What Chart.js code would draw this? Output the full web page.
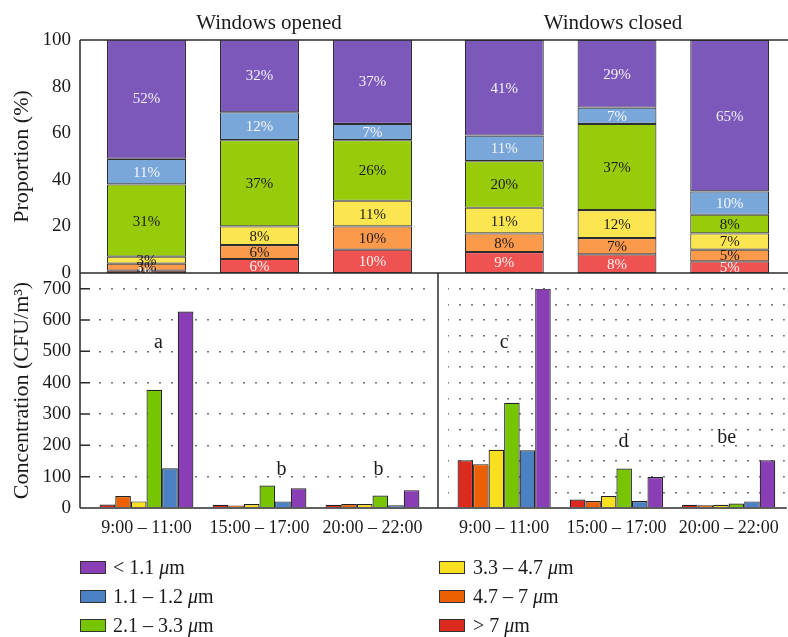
<!DOCTYPE html>
<html lang="en">
<head>
<meta charset="UTF-8">
<title>Airborne bacteria by particle size</title>
<script src="https://cdn.jsdelivr.net/npm/chart.js@4.4.0/dist/chart.umd.min.js"></script>
<style>
  html, body { margin: 0; padding: 0; background: #fff; }
  #wrap { position: relative; width: 788px; height: 637px; overflow: hidden;
          font-family: 'Liberation Serif', serif; color: #1a1a1a; }
  #wrap canvas { position: absolute; left: 0; top: 0; }
  .ptitle { position: absolute; top: 12px; width: 240px; text-align: center;
            font-size: 21px; line-height: 21px; white-space: nowrap; }
  .lgbox { position: absolute; width: 26px; height: 13px; box-sizing: border-box; border: 1px solid #333; }
  .lgtxt { position: absolute; font-size: 20px; line-height: 20px; white-space: nowrap; }
</style>
</head>
<body>
<div id="wrap">
  <canvas id="topL" width="788" height="637"></canvas>
  <canvas id="topR" width="788" height="637"></canvas>
  <canvas id="botL" width="788" height="637"></canvas>
  <canvas id="botR" width="788" height="637"></canvas>
  <div class="ptitle" style="left:149px">Windows opened</div>
  <div class="ptitle" style="left:493px">Windows closed</div>
</div>
<script>
// categories + size classes (rows of the tables below follow sizeLabels)
const times = ['9:00 – 11:00', '15:00 – 17:00', '20:00 – 22:00'];
const sizeLabels = ['> 7 μm', '4.7 – 7 μm', '3.3 – 4.7 μm', '2.1 – 3.3 μm', '1.1 – 1.2 μm', '< 1.1 μm'];

// proportion (%) as printed on the stacked bars
const propOpened = [
  [1, 6, 10],
  [3, 6, 10],
  [3, 8, 11],
  [31, 37, 26],
  [11, 12, 7],
  [52, 32, 37]
];
const propClosed = [
  [9, 8, 5],
  [8, 7, 5],
  [11, 12, 7],
  [20, 37, 8],
  [11, 7, 10],
  [41, 29, 65]
];

// concentration (CFU/m3)
const concOpened = [
  [11, 10, 10],
  [38, 8, 13],
  [21, 13, 13],
  [377, 72, 40],
  [127, 21, 9],
  [627, 63, 57]
];
const concClosed = [
  [152, 27, 10],
  [140, 22, 9],
  [186, 38, 10],
  [336, 126, 14],
  [184, 22, 21],
  [700, 99, 152]
];

// significance letters over each group
const lettersOpened = ['a', 'b', 'b'];
const lettersClosed = ['c', 'd', 'be'];

const FONT = 'Liberation Serif';
const propColors = ['#f05151', '#fc9a4b', '#fce650', '#98cc0b', '#7aa7d9', '#7b58b9'];
const propTextColors = ['#fdf2f2', '#1a1a1a', '#1a1a1a', '#1a1a1a', '#f4f6fb', '#f3f0f9'];
const concColors = ['#dc2a1e', '#ed6000', '#f8df1f', '#76c500', '#4b80c2', '#8a3eb6'];
// where the letters sit (value units / pixel nudge)
const letterPosOpened = [{ v: 511, dx: 12 }, { v: 105, dx: 22 }, { v: 105, dx: 6 }];
const letterPosClosed = [{ v: 511, dx: 0 }, { v: 195, dx: 7 }, { v: 208, dx: -2 }];

// --- small plugins ---
// panel frame; the frame sits a little outside the category area
const framePlugin = {
  id: 'frame',
  afterDraw(chart, args, o) {
    const { ctx, chartArea: a } = chart;
    const L = a.left - o.outL, R = a.right + o.outR;
    ctx.save();
    ctx.strokeStyle = '#2b2b2b';
    ctx.lineWidth = 1.5;
    ctx.beginPath();
    o.sides.forEach(s => {
      if (s === 'left') { ctx.moveTo(L, a.top); ctx.lineTo(L, a.bottom); }
      if (s === 'right') { ctx.moveTo(R, a.top); ctx.lineTo(R, a.bottom); }
      if (s === 'top') { ctx.moveTo(L, a.top); ctx.lineTo(R, a.top); }
      if (s === 'bottom') { ctx.moveTo(L, a.bottom); ctx.lineTo(R, a.bottom); }
    });
    // short inward ticks on the concentration axis
    if (o.inTicks) {
      const ys = chart.scales.y;
      ys.ticks.forEach(t => {
        if (t.value <= 0 || t.value >= ys.max) return;
        const len = t.value % 100 === 0 ? 10 : 5;
        const py = ys.getPixelForValue(t.value);
        ctx.moveTo(L, py); ctx.lineTo(L + len, py);
      });
    }
    ctx.stroke();
    ctx.restore();
  }
};

const segLabelPlugin = {
  id: 'segLabels',
  afterDatasetsDraw(chart) {
    const ctx = chart.ctx;
    ctx.save();
    ctx.font = '15px "' + FONT + '"';
    ctx.textAlign = 'center';
    ctx.textBaseline = 'middle';
    chart.data.datasets.forEach((ds, i) => {
      chart.getDatasetMeta(i).data.forEach((bar, j) => {
        ctx.fillStyle = propTextColors[i];
        ctx.fillText(ds.data[j] + '%', bar.x, (bar.y + bar.base) / 2 + 1);
      });
    });
    ctx.restore();
  }
};

const letterPlugin = {
  id: 'letters',
  afterDatasetsDraw(chart, args, o) {
    const ctx = chart.ctx;
    ctx.save();
    ctx.font = '20px "' + FONT + '"';
    ctx.fillStyle = '#1a1a1a';
    ctx.textAlign = 'center';
    ctx.textBaseline = 'alphabetic';
    o.letters.forEach((t, i) => {
      const p = o.pos[i];
      ctx.fillText(t, chart.scales.x.getPixelForValue(i) + p.dx, chart.scales.y.getPixelForValue(p.v));
    });
    ctx.restore();
  }
};

// --- chart builders ---
function xAxis(show, stacked) {
  const ax = {
    type: 'category', display: show, stacked: stacked,
    grid: { display: false, drawTicks: false },
    border: { display: false },
    ticks: { font: { family: FONT, size: 18 }, color: '#1a1a1a', padding: 9, maxRotation: 0, autoSkip: false }
  };
  if (show) ax.afterFit = s => { s.height = 40; };
  return ax;
}

function propChart(id, table, pad, showY, frame) {
  const yAx = {
    min: 0, max: 100, stacked: true, display: showY,
    grid: { display: false, drawTicks: false },
    border: { display: false },
    ticks: { stepSize: 20, padding: 19, font: { family: FONT, size: 19 }, color: '#1a1a1a' },
    title: { display: true, text: 'Proportion (%)', color: '#1a1a1a',
             font: { family: FONT, size: 22 }, padding: { top: 9, bottom: 0 } }
  };
  if (showY) yAx.afterFit = s => { s.width = 90; };
  return new Chart(document.getElementById(id), {
    type: 'bar',
    data: {
      labels: times,
      datasets: table.map((vals, i) => ({
        label: sizeLabels[i],
        data: vals,
        backgroundColor: propColors[i],
        borderColor: '#2e2e2e',
        borderWidth: 1.1,
        borderSkipped: false,
        categoryPercentage: 0.7,
        barPercentage: 1
      }))
    },
    options: {
      responsive: false, animation: false,
      layout: { padding: pad },
      scales: { x: xAxis(false, true), y: yAx },
      plugins: { legend: { display: false }, tooltip: { enabled: false }, frame: frame }
    },
    plugins: [framePlugin, segLabelPlugin]
  });
}

function concChart(id, table, pad, showLabels, frame, letters, pos, dashOff) {
  const yAx = {
    min: 0, max: 750,
    grid: {
      drawTicks: false, lineWidth: 1.5,
      color: c => (c.tick && (c.tick.value === 0 || c.tick.value === 750)) ? 'rgba(0,0,0,0)' : '#707070'
    },
    border: { display: false, dash: [2, 10], dashOffset: dashOff },
    ticks: {
      display: showLabels,
      stepSize: 50, padding: 19, font: { family: FONT, size: 19 }, color: '#1a1a1a',
      callback: v => (v % 100 === 0 ? v : '')
    },
    title: { display: showLabels, text: 'Concentration (CFU/m³)', color: '#1a1a1a',
             font: { family: FONT, size: 22 }, padding: { top: 9, bottom: 0 } },
    // the right panel keeps its grid but has no label column
    afterFit: s => { s.width = showLabels ? 90 : 0; }
  };
  return new Chart(document.getElementById(id), {
    type: 'bar',
    data: {
      labels: times,
      datasets: table.map((vals, i) => ({
        label: sizeLabels[i],
        data: vals,
        backgroundColor: concColors[i],
        borderColor: '#222',
        borderWidth: 1.2,
        categoryPercentage: 0.83,
        barPercentage: 1
      }))
    },
    options: {
      responsive: false, animation: false,
      layout: { padding: pad },
      scales: { x: xAxis(true, false), y: yAx },
      plugins: {
        legend: { display: false }, tooltip: { enabled: false },
        frame: frame,
        letters: { letters: letters, pos: pos }
      }
    },
    plugins: [framePlugin, letterPlugin]
  });
}

propChart('topL', propOpened, { left: 0, top: 40, right: 359, bottom: 364 }, true,
  { sides: ['left', 'top', 'bottom'], outL: 10, outR: 9 });
propChart('topR', propClosed, { left: 448, top: 40, right: 2, bottom: 364 }, false,
  { sides: ['top', 'bottom'], outL: 10, outR: 2 });
concChart('botL', concOpened, { left: 0, top: 273, right: 359, bottom: 89 }, true,
  { sides: ['left', 'bottom', 'right'], outL: 10, outR: 9, inTicks: true }, lettersOpened, letterPosOpened, 3);
concChart('botR', concClosed, { left: 448, top: 273, right: 2, bottom: 89 }, false,
  { sides: ['bottom'], outL: 10, outR: 2 }, lettersClosed, letterPosClosed, 1);

// legend: two columns, first column starts with the smallest particles
const wrap = document.getElementById('wrap');
const legendOrder = [5, 4, 3, 2, 1, 0];
legendOrder.forEach((si, k) => {
  const col = Math.floor(k / 3), row = k % 3;
  const base = 574 + row * 29;
  const box = document.createElement('div');
  box.className = 'lgbox';
  box.style.left = (col ? 439 : 80) + 'px';
  box.style.top = (base - 13) + 'px';
  box.style.background = concColors[si];
  wrap.appendChild(box);
  const txt = document.createElement('div');
  txt.className = 'lgtxt';
  txt.style.left = (col ? 473 : 113) + 'px';
  txt.style.top = (base - 17) + 'px';
  txt.innerHTML = sizeLabels[si].replace('μ', '<i>μ</i>');
  wrap.appendChild(txt);
});
</script>
</body>
</html>
